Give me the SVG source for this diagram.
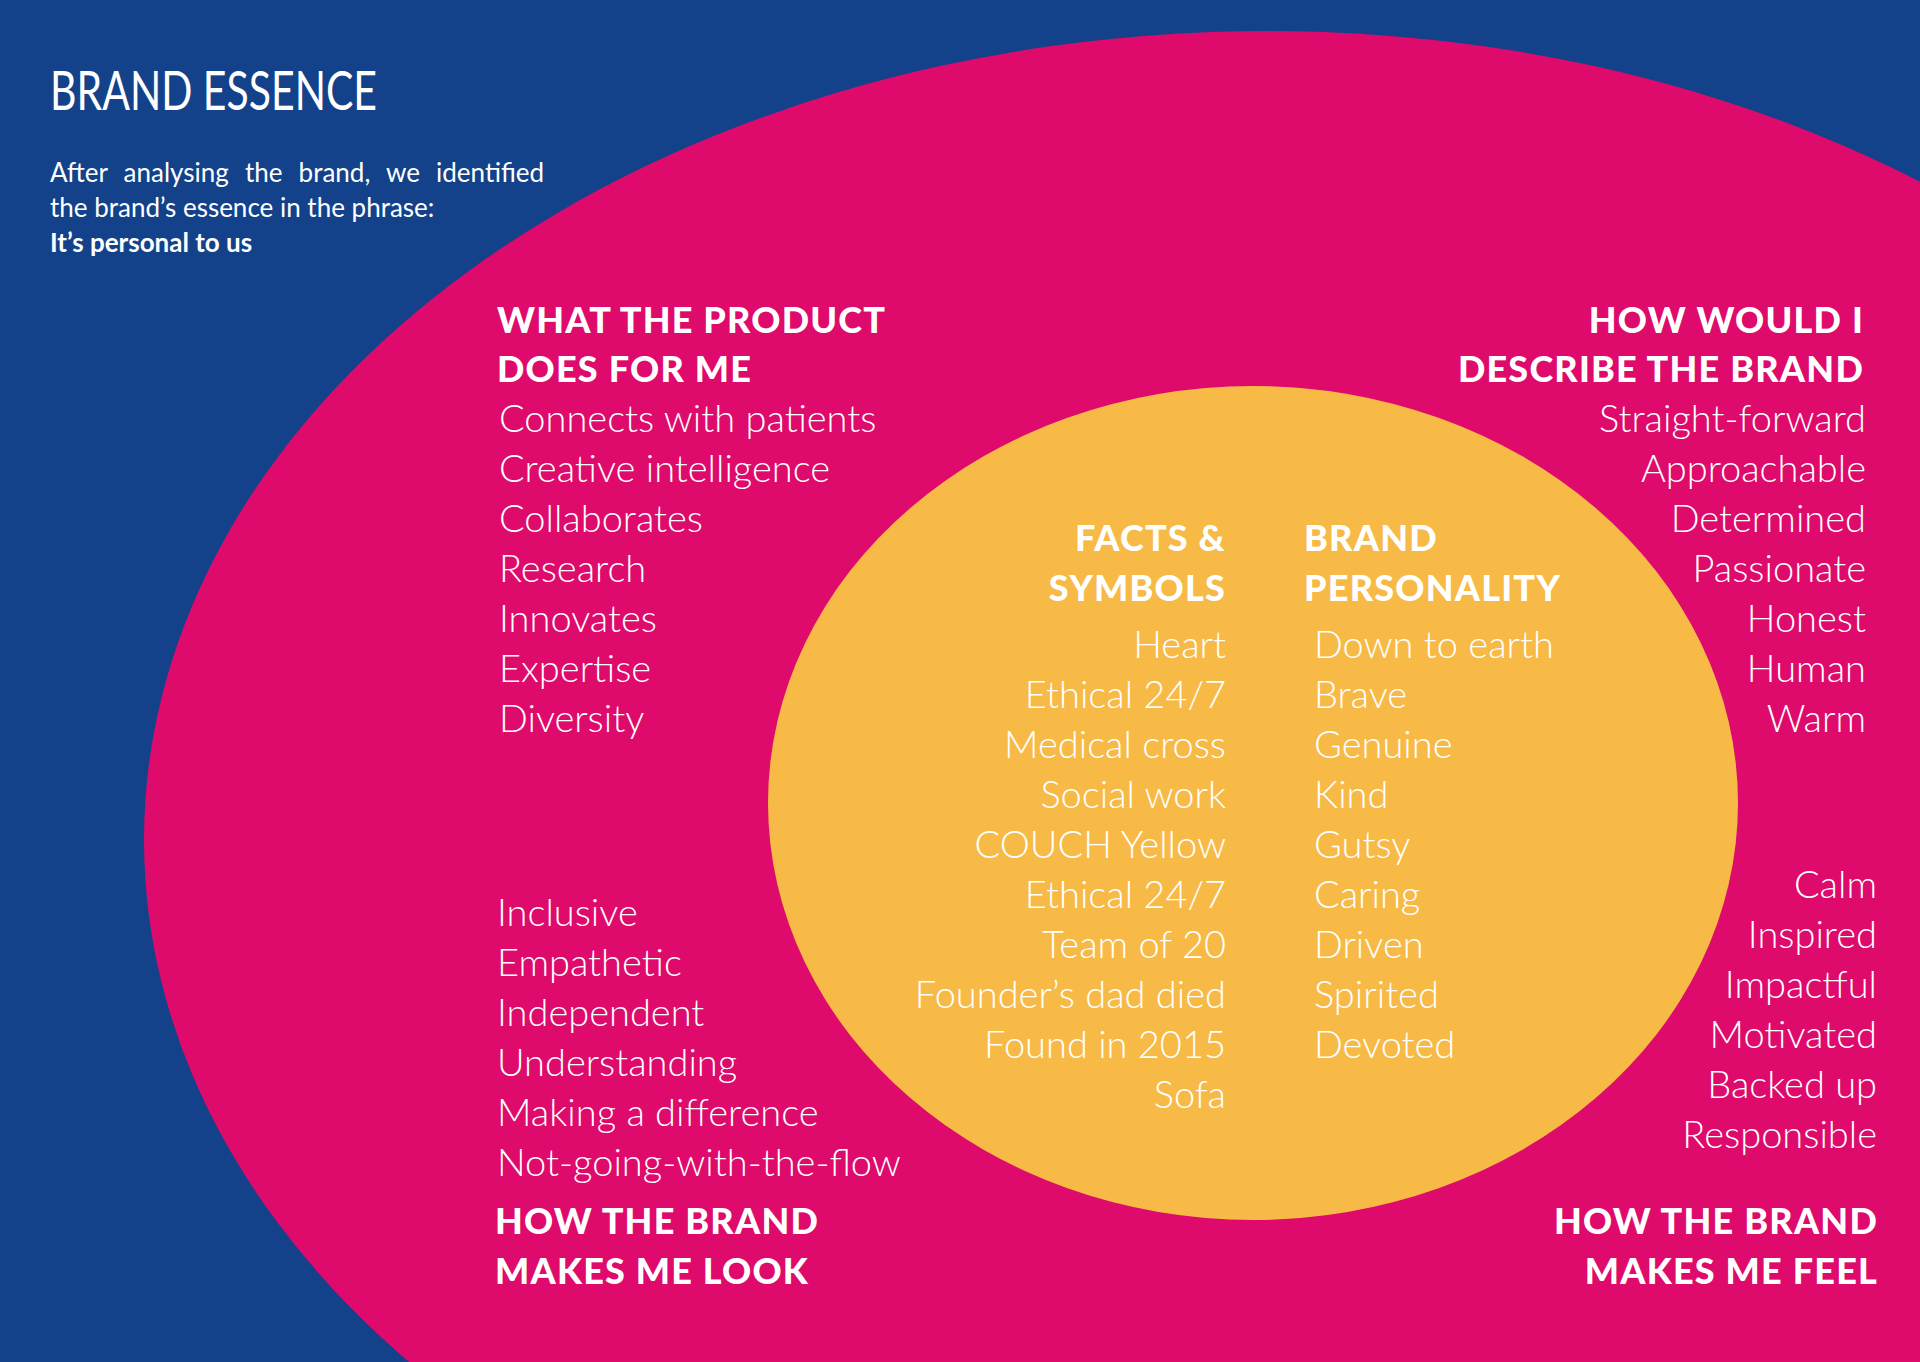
<svg xmlns="http://www.w3.org/2000/svg" width="1920" height="1362" viewBox="0 0 1920 1362">
<style>
.t{font-family:Lato,"Open Sans","Liberation Sans",sans-serif;fill:#fff}
.h{font-weight:900;font-size:36px;letter-spacing:1.2px}
.b{font-weight:300;font-size:38px;letter-spacing:0px}
.r{text-anchor:end}
.p{font-weight:400;font-size:26px}
.pb{font-weight:700;font-size:26px}
</style>
<rect id="background" x="0" y="0" width="1920" height="1362" fill="#13428A"/>
<ellipse id="outer" cx="1267" cy="840" rx="1123" ry="809" fill="#DE0A6C"/>
<ellipse id="inner" cx="1253" cy="803" rx="485" ry="417" fill="#F8BA46"/>
<g id="title" class="t">
<text x="50" y="110" font-size="54" font-weight="400" textLength="327" lengthAdjust="spacingAndGlyphs">BRAND ESSENCE</text>
<text class="p" x="50" y="182" word-spacing="9.5">After analysing the brand, we identified</text>
<text class="p" x="50" y="217">the brand’s essence in the phrase:</text>
<text class="pb" x="50" y="252">It’s personal to us</text>
</g>
<g id="product" class="t">
<text class="h" x="497" y="333">WHAT THE PRODUCT</text>
<text class="h" x="497" y="382">DOES FOR ME</text>
<text class="b" x="499" y="432">Connects with patients</text>
<text class="b" x="499" y="482">Creative intelligence</text>
<text class="b" x="499" y="532">Collaborates</text>
<text class="b" x="499" y="582">Research</text>
<text class="b" x="499" y="632">Innovates</text>
<text class="b" x="499" y="682">Expertise</text>
<text class="b" x="499" y="732">Diversity</text>
</g>
<g id="describe" class="t r">
<text class="h" x="1864" y="333">HOW WOULD I</text>
<text class="h" x="1864" y="382">DESCRIBE THE BRAND</text>
<text class="b" x="1866" y="432">Straight-forward</text>
<text class="b" x="1866" y="482">Approachable</text>
<text class="b" x="1866" y="532">Determined</text>
<text class="b" x="1866" y="582">Passionate</text>
<text class="b" x="1866" y="632">Honest</text>
<text class="b" x="1866" y="682">Human</text>
<text class="b" x="1866" y="732">Warm</text>
</g>
<g id="look" class="t">
<text class="b" x="497" y="926">Inclusive</text>
<text class="b" x="497" y="976">Empathetic</text>
<text class="b" x="497" y="1026">Independent</text>
<text class="b" x="497" y="1076">Understanding</text>
<text class="b" x="497" y="1126">Making a difference</text>
<text class="b" x="497" y="1176">Not-going-with-the-flow</text>
<text class="h" x="495" y="1234">HOW THE BRAND</text>
<text class="h" x="495" y="1284">MAKES ME LOOK</text>
</g>
<g id="feel" class="t r">
<text class="b" x="1877" y="898">Calm</text>
<text class="b" x="1877" y="948">Inspired</text>
<text class="b" x="1877" y="998">Impactful</text>
<text class="b" x="1877" y="1048">Motivated</text>
<text class="b" x="1877" y="1098">Backed up</text>
<text class="b" x="1877" y="1148">Responsible</text>
<text class="h" x="1878" y="1234">HOW THE BRAND</text>
<text class="h" x="1878" y="1284">MAKES ME FEEL</text>
</g>
<g id="facts" class="t r">
<text class="h" x="1226" y="551">FACTS &amp;</text>
<text class="h" x="1226" y="601">SYMBOLS</text>
<text class="b" x="1226" y="658">Heart</text>
<text class="b" x="1226" y="708">Ethical 24/7</text>
<text class="b" x="1226" y="758">Medical cross</text>
<text class="b" x="1226" y="808">Social work</text>
<text class="b" x="1226" y="858">COUCH Yellow</text>
<text class="b" x="1226" y="908">Ethical 24/7</text>
<text class="b" x="1226" y="958">Team of 20</text>
<text class="b" x="1226" y="1008">Founder’s dad died</text>
<text class="b" x="1226" y="1058">Found in 2015</text>
<text class="b" x="1226" y="1108">Sofa</text>
</g>
<g id="personality" class="t">
<text class="h" x="1304" y="551">BRAND</text>
<text class="h" x="1304" y="601">PERSONALITY</text>
<text class="b" x="1314" y="658">Down to earth</text>
<text class="b" x="1314" y="708">Brave</text>
<text class="b" x="1314" y="758">Genuine</text>
<text class="b" x="1314" y="808">Kind</text>
<text class="b" x="1314" y="858">Gutsy</text>
<text class="b" x="1314" y="908">Caring</text>
<text class="b" x="1314" y="958">Driven</text>
<text class="b" x="1314" y="1008">Spirited</text>
<text class="b" x="1314" y="1058">Devoted</text>
</g>
</svg>
